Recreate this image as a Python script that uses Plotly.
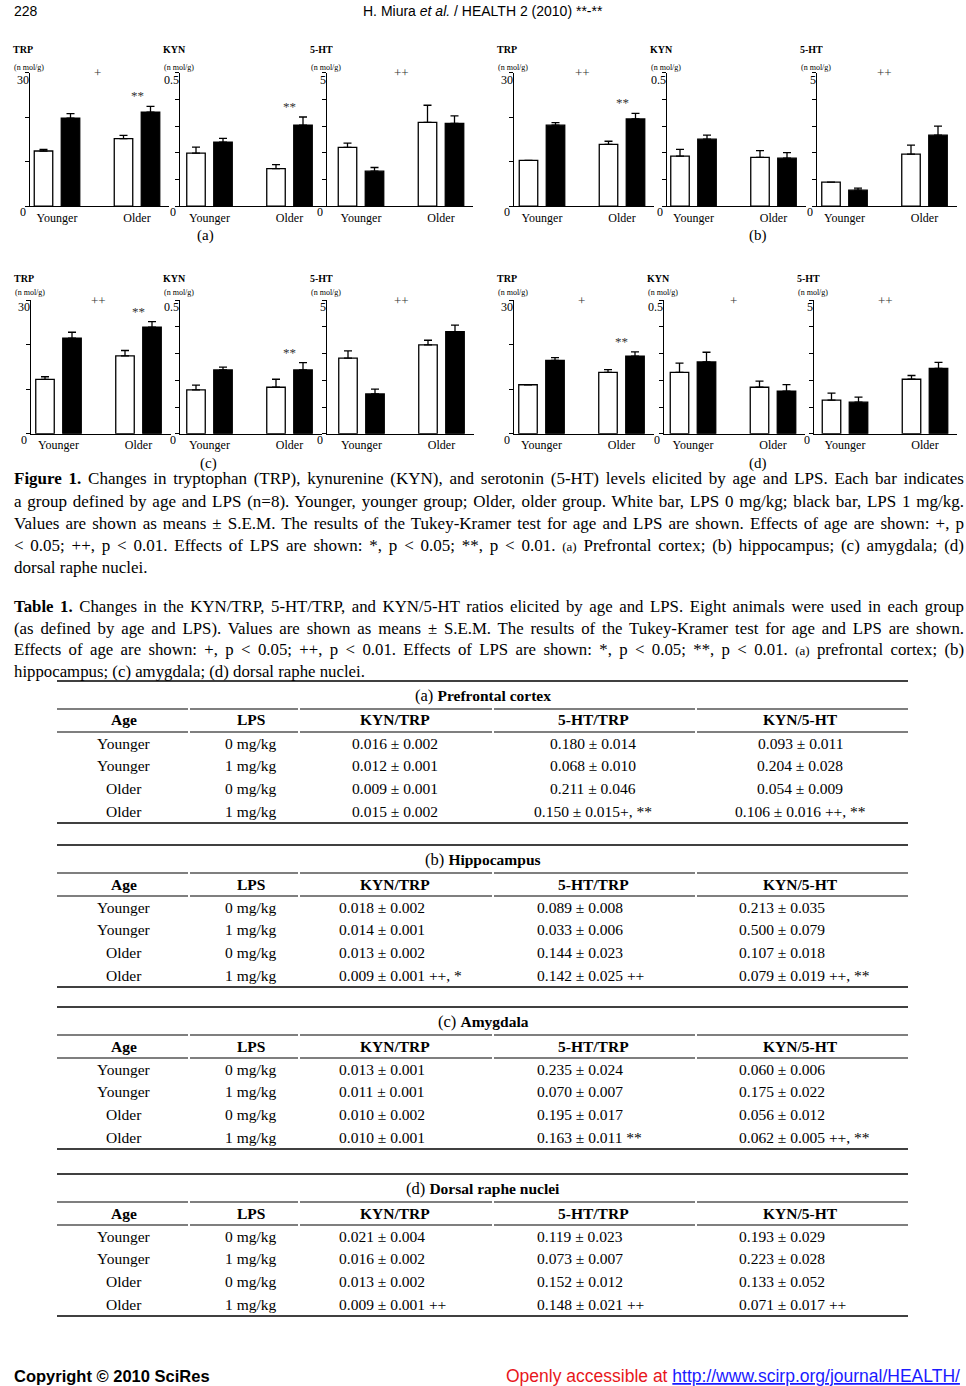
import plotly.graph_objects as go

W, H = 966, 1386
SERIF = "Liberation Serif, Times New Roman, serif"
SANS = "Liberation Sans, Arial, sans-serif"
NARROW = "Liberation Sans Narrow, Liberation Sans, Arial, sans-serif"

# ---------------- data: Figure 1 bars ----------------
regions = ["a", "b", "c", "d"]
analytes = ["TRP", "KYN", "5-HT"]
groups = ["Younger", "Older"]
y_max = {"TRP": 30, "KYN": 0.5, "5-HT": 5}
y_step = {"TRP": 10, "KYN": 0.1, "5-HT": 1}
y_top_label = {"TRP": "30", "KYN": "0.5", "5-HT": "5"}

# LPS 0 mg/kg (white bars), [Younger, Older]
TRP_LPS0 = {"a": [12.4, 15.2], "b": [10.3, 13.9], "c": [12.2, 17.5], "d": [11.0, 13.8]}
TRP_LPS0_SEM = {"a": [0.35, 0.7], "b": [0.0, 0.7], "c": [0.6, 1.2], "d": [0.0, 0.6]}
KYN_LPS0 = {"a": [0.199, 0.141], "b": [0.1875, 0.1825], "c": [0.164, 0.174], "d": [0.23, 0.174]}
KYN_LPS0_SEM = {"a": [0.022, 0.015], "b": [0.025, 0.026], "c": [0.018, 0.03], "d": [0.034, 0.023]}
HT_LPS0 = {"a": [2.2, 3.14], "b": [0.9, 1.95], "c": [2.83, 3.33], "d": [1.26, 2.04]}
HT_LPS0_SEM = {"a": [0.16, 0.64], "b": [0.0, 0.34], "c": [0.27, 0.17], "d": [0.26, 0.14]}
# LPS 1 mg/kg (black bars), [Younger, Older]
TRP_LPS1 = {"a": [19.8, 21.15], "b": [18.2, 19.6], "c": [21.5, 23.95], "d": [16.5, 17.4]}
TRP_LPS1_SEM = {"a": [1.0, 1.3], "b": [0.6, 1.25], "c": [1.3, 1.25], "d": [0.6, 1.0]}
KYN_LPS1 = {"a": [0.24, 0.304], "b": [0.251, 0.18], "c": [0.239, 0.239], "d": [0.269, 0.159]}
KYN_LPS1_SEM = {"a": [0.014, 0.03], "b": [0.015, 0.021], "c": [0.01, 0.027], "d": [0.036, 0.025]}
HT_LPS1 = {"a": [1.31, 3.1], "b": [0.6, 2.66], "c": [1.49, 3.82], "d": [1.18, 2.45]}
HT_LPS1_SEM = {"a": [0.14, 0.28], "b": [0.075, 0.34], "c": [0.18, 0.25], "d": [0.19, 0.22]}

AGE_SIG = {("a", "TRP"): "+", ("a", "5-HT"): "++", ("b", "TRP"): "++", ("b", "5-HT"): "++",
           ("c", "TRP"): "++", ("c", "5-HT"): "++", ("d", "TRP"): "+", ("d", "KYN"): "+",
           ("d", "5-HT"): "++"}
LPS_SIG = {("a", "TRP"): "**", ("a", "KYN"): "**", ("b", "TRP"): "**", ("c", "TRP"): "**",
           ("c", "KYN"): "**", ("d", "TRP"): "**"}

# ---------------- data: Table 1 ----------------
table_titles = {"a": "Prefrontal cortex", "b": "Hippocampus", "c": "Amygdala", "d": "Dorsal raphe nuclei"}
table_headers = ["Age", "LPS", "KYN/TRP", "5-HT/TRP", "KYN/5-HT"]
table_age = ["Younger", "Younger", "Older", "Older"]
table_lps = ["0 mg/kg", "1 mg/kg", "0 mg/kg", "1 mg/kg"]
KYN_TRP = {
    "a": ["0.016 ± 0.002", "0.012 ± 0.001", "0.009 ± 0.001", "0.015 ± 0.002"],
    "b": ["0.018 ± 0.002", "0.014 ± 0.001", "0.013 ± 0.002", "0.009 ± 0.001 ++, *"],
    "c": ["0.013 ± 0.001", "0.011 ± 0.001", "0.010 ± 0.002", "0.010 ± 0.001"],
    "d": ["0.021 ± 0.004", "0.016 ± 0.002", "0.013 ± 0.002", "0.009 ± 0.001 ++"],
}
HT_TRP = {
    "a": ["0.180 ± 0.014", "0.068 ± 0.010", "0.211 ± 0.046", "0.150 ± 0.015+, **"],
    "b": ["0.089 ± 0.008", "0.033 ± 0.006", "0.144 ± 0.023", "0.142 ± 0.025 ++"],
    "c": ["0.235 ± 0.024", "0.070 ± 0.007", "0.195 ± 0.017", "0.163 ± 0.011 **"],
    "d": ["0.119 ± 0.023", "0.073 ± 0.007", "0.152 ± 0.012", "0.148 ± 0.021 ++"],
}
KYN_HT = {
    "a": ["0.093 ± 0.011", "0.204 ± 0.028", "0.054 ± 0.009", "0.106 ± 0.016 ++, **"],
    "b": ["0.213 ± 0.035", "0.500 ± 0.079", "0.107 ± 0.018", "0.079 ± 0.019 ++, **"],
    "c": ["0.060 ± 0.006", "0.175 ± 0.022", "0.056 ± 0.012", "0.062 ± 0.005 ++, **"],
    "d": ["0.193 ± 0.029", "0.223 ± 0.028", "0.133 ± 0.052", "0.071 ± 0.017 ++"],
}

fig_caption = [
    "<b>Figure 1.</b> Changes in tryptophan (TRP), kynurenine (KYN), and serotonin (5-HT) levels elicited by age and LPS. Each bar indicates",
    "a group defined by age and LPS (n=8). Younger, younger group; Older, older group. White bar, LPS 0 mg/kg; black bar, LPS 1 mg/kg.",
    "Values are shown as means ± S.E.M. The results of the Tukey-Kramer test for age and LPS are shown. Effects of age are shown: +, p",
    "&lt; 0.05; ++, p &lt; 0.01. Effects of LPS are shown: *, p &lt; 0.05; **, p &lt; 0.01. <span style='font-size:13px'>(a)</span> Prefrontal cortex; (b) hippocampus; (c) amygdala; (d)",
    "dorsal raphe nuclei.",
]
table_caption = [
    "<b>Table 1.</b> Changes in the KYN/TRP, 5-HT/TRP, and KYN/5-HT ratios elicited by age and LPS. Eight animals were used in each group",
    "(as defined by age and LPS). Values are shown as means ± S.E.M. The results of the Tukey-Kramer test for age and LPS are shown.",
    "Effects of age are shown: +, p &lt; 0.05; ++, p &lt; 0.01. Effects of LPS are shown: *, p &lt; 0.05; **, p &lt; 0.01. <span style='font-size:13px'>(a)</span> prefrontal cortex; (b)",
    "hippocampus; (c) amygdala; (d) dorsal raphe nuclei.",
]

# ---------------- layout geometry (pixels) ----------------
UNIT = 80.0
axis_left = {"a": [30, 180, 327], "b": [514, 667, 817], "c": [31, 180, 327], "d": [514, 664, 814]}
younger_center = {"a": [57, 209.5, 361], "b": [542, 693.5, 844.5], "c": [58.5, 209.5, 361.5], "d": [541.5, 693, 845]}
row_top = {"a": 72.7, "b": 72.7, "c": 300.2, "d": 300.2}
PLOT_H = 133.5
panel_label_pos = {"a": (205, 236), "b": (758, 236), "c": (208, 463), "d": (758, 463)}
title_y = {"a": (50, 67), "b": (50, 67), "c": (278, 293), "d": (278, 293)}

lps0 = {"TRP": (TRP_LPS0, TRP_LPS0_SEM), "KYN": (KYN_LPS0, KYN_LPS0_SEM), "5-HT": (HT_LPS0, HT_LPS0_SEM)}
lps1 = {"TRP": (TRP_LPS1, TRP_LPS1_SEM), "KYN": (KYN_LPS1, KYN_LPS1_SEM), "5-HT": (HT_LPS1, HT_LPS1_SEM)}

fig = go.Figure()
annotations = []
shapes = []
layout_axes = {}
justify_idx = []


def px_x(x):
    return x / W


def px_y(y):
    return 1 - y / H


def add_text(x, y, text, size, family=SERIF, xanchor="left", yanchor="middle", color="black", align=None):
    d = dict(x=px_x(x), y=px_y(y), xref="paper", yref="paper", text=text,
             showarrow=False, xanchor=xanchor, yanchor=yanchor,
             font=dict(family=family, size=size, color=color))
    if align:
        d["align"] = align
    annotations.append(d)
    return len(annotations) - 1


def hline(x0, x1, y, w=1.2):
    shapes.append(dict(type="line", xref="paper", yref="paper", x0=px_x(x0), x1=px_x(x1),
                       y0=px_y(y), y1=px_y(y), line=dict(color="black", width=w)))


idx = 0
for r in regions:
    for j, an in enumerate(analytes):
        idx += 1
        sfx = "" if idx == 1 else str(idx)
        L = axis_left[r][j]
        yc = younger_center[r][j]
        lo = -(yc - L) / UNIT
        hi = 1.4
        R = yc + hi * UNIT
        top = row_top[r]
        v0, e0 = lps0[an][0][r], lps0[an][1][r]
        v1, e1 = lps1[an][0][r], lps1[an][1][r]
        fig.add_trace(go.Bar(
            x=groups, y=v0, xaxis="x" + sfx, yaxis="y" + sfx, offsetgroup="lps0",
            marker=dict(color="white", line=dict(color="black", width=1.3)),
            error_y=dict(type="data", array=e0, arrayminus=[0, 0], symmetric=False,
                         color="black", thickness=1.3, width=4),
            showlegend=False, hoverinfo="skip"))
        fig.add_trace(go.Bar(
            x=groups, y=v1, xaxis="x" + sfx, yaxis="y" + sfx, offsetgroup="lps1",
            marker=dict(color="black", line=dict(color="black", width=1.3)),
            error_y=dict(type="data", array=e1, arrayminus=[0, 0], symmetric=False,
                         color="black", thickness=1.3, width=4),
            showlegend=False, hoverinfo="skip"))
        ymax = y_max[an]
        nt = int(round(ymax / y_step[an]))
        tv = [k * y_step[an] for k in range(nt + 1)]
        layout_axes["xaxis" + sfx] = dict(
            domain=[px_x(L), px_x(R)], range=[lo, hi], anchor="y" + sfx, type="category",
            categoryorder="array", categoryarray=groups,
            showline=True, linecolor="black", linewidth=1.3, ticks="", showgrid=False,
            zeroline=False, tickfont=dict(family=SERIF, size=12, color="black"))
        layout_axes["yaxis" + sfx] = dict(
            domain=[px_y(top + PLOT_H), px_y(top)], range=[0, ymax], anchor="x" + sfx,
            showline=True, linecolor="black", linewidth=1.3, ticks="outside", ticklen=4,
            tickwidth=1, tickcolor="black", tickvals=tv, showticklabels=False, showgrid=False,
            zeroline=False)
        # y tick labels (top-aligned at their tick, as in the printed figure)
        annotations.append(dict(x=px_x(L), y=ymax, xref="paper", yref="y" + sfx,
                                text=y_top_label[an], showarrow=False, xanchor="right",
                                yanchor="top", xshift=1, yshift=2,
                                font=dict(family=SERIF, size=12, color="black")))
        annotations.append(dict(x=px_x(L), y=0, xref="paper", yref="y" + sfx,
                                text="0", showarrow=False, xanchor="right",
                                yanchor="top", xshift=-2, yshift=3,
                                font=dict(family=SERIF, size=12, color="black")))
        # axis titles
        add_text(L - 19, title_y[r][0], "<b>" + an + "</b>", 10)
        add_text(L - 18, title_y[r][1], "(n mol/g)", 8)
        # significance marks
        if (r, an) in AGE_SIG:
            annotations.append(dict(x=0.5, y=ymax, xref="x" + sfx, yref="y" + sfx,
                                    text=AGE_SIG[(r, an)], showarrow=False,
                                    font=dict(family=SERIF, size=13, color="#333")))
        if (r, an) in LPS_SIG:
            annotations.append(dict(x=1, y=v1[1] + e1[1], xref="x" + sfx, yref="y" + sfx,
                                    text=LPS_SIG[(r, an)], showarrow=False, yanchor="bottom",
                                    yshift=1, font=dict(family=SERIF, size=13, color="#333")))
    add_text(panel_label_pos[r][0], panel_label_pos[r][1], "(" + r + ")", 15, xanchor="center")

# header and footer
add_text(12, 11, "228", 14, family=NARROW)
add_text(483, 11, "H. Miura <i>et al.</i> / HEALTH 2 (2010) **-**", 14, family=NARROW, xanchor="center")
add_text(12, 1376, "<b>Copyright © 2010 SciRes</b>", 16.5, family=SANS)
add_text(962, 1376, "<span style='color:#e8161b'>Openly accessible at </span>"
         "<span style='color:#1a1aff'><u>http://www.scirp.org/journal/HEALTH/</u></span>",
         17.5, family=SANS, xanchor="right")

# captions (full lines are justified to the text block width by the post script)
for k, line in enumerate(fig_caption):
    i = add_text(12, 479 + 22 * k, line, 17, align="left")
    if k < len(fig_caption) - 1:
        justify_idx.append(i)
for k, line in enumerate(table_caption):
    i = add_text(12, 606.5 + 21.5 * k, line, 16.8, align="left")
    if k < len(table_caption) - 1:
        justify_idx.append(i)

# tables
col_center = [124, 251, 395, 593, 800]
col_left_val = [337, 535, 737]
segments = [(57, 188), (190, 298), (300, 492), (494, 695), (697, 908)]
table_top = {"a": 681, "b": 845, "c": 1007, "d": 1174}
for r in regions:
    T = table_top[r]
    hline(57, 908, T, 1.3)
    add_text(483, T + 14, "(" + r + ") <b><span style='font-size:15.5px'>" + table_titles[r] + "</span></b>",
             16.5, xanchor="center")
    for (s0, s1) in segments:
        hline(s0, s1, T + 28, 1.2)
        hline(s0, s1, T + 51, 1.2)
    for c, htxt in enumerate(table_headers):
        add_text(col_center[c], T + 39, "<b>" + htxt + "</b>", 15.5, xanchor="center")
    for i in range(4):
        yy = T + 62 + i * 22.7
        add_text(col_center[0], yy, table_age[i], 15.5, xanchor="center")
        add_text(col_center[1], yy, table_lps[i], 15.5, xanchor="center")
        vals = [KYN_TRP[r][i], HT_TRP[r][i], KYN_HT[r][i]]
        for c, v in enumerate(vals):
            if r == "a":
                add_text(col_center[c + 2], yy, v, 15.5, xanchor="center")
            else:
                add_text(col_left_val[c], yy, v, 15.5, xanchor="left")
    hline(57, 908, T + 142, 1.3)

fig.update_layout(
    width=W, height=H, margin=dict(l=0, r=0, t=0, b=0),
    paper_bgcolor="white", plot_bgcolor="white",
    barmode="group", bargap=0.325, bargroupgap=0.315,
    annotations=annotations, shapes=shapes, showlegend=False,
    **layout_axes)

post_js = """
document.body.style.margin = '0';
document.body.style.overflow = 'hidden';
var gd = document.getElementById('{plot_id}');
var ids = %s;
var target = %f;
ids.forEach(function(i) {
  var t = gd.querySelector('g.annotation[data-index="' + i + '"] text.annotation-text');
  if (!t) return;
  var w = t.getComputedTextLength();
  var n = (t.textContent.match(/ /g) || []).length;
  if (n > 0 && w < target) { t.style.wordSpacing = ((target - w) / n) + 'px'; }
});
""" % (str(justify_idx), 950.0)

fig.write_html("out.html", post_script=post_js, config={"displayModeBar": False})
